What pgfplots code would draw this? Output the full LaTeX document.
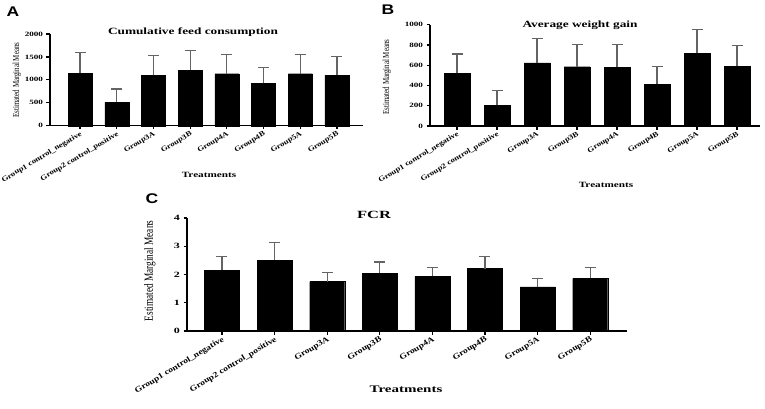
\documentclass[border=0pt]{standalone}
\usepackage{pgfplots}
\pgfplotsset{compat=1.18}
\usepackage{fontspec}
\setmainfont{Liberation Serif}
\newfontfamily\ws{Liberation Serif}[FakeStretch=1.4]
\newfontfamily\wt{Liberation Serif}[FakeStretch=1.2]
\newfontfamily\wsc{Liberation Serif}[FakeStretch=1.5]
\newfontfamily\nar{Liberation Serif}[FakeStretch=0.75]
\newfontfamily\lab{Liberation Sans}[FakeStretch=1.25]
\definecolor{errgray}{RGB}{100,100,100}
\pgfplotsset{
  myax/.style={
    scale only axis,
    axis lines*=left,
    axis line style={line width=1.5pt},
    ymin=0,
    xtick={0,...,7},
    xticklabels={Group1 control\_negative,Group2 control\_positive,Group3A,Group3B,Group4A,Group4B,Group5A,Group5B},
    tick align=outside,
    major tick length=3.5pt,
    tick style={black, line width=1.2pt},
    xticklabel style={rotate=31, anchor=north east, inner sep=1pt},
    /pgf/number format/1000 sep={},
    /pgf/number format/assume math mode=true,
    ybar,
    clip=false,
    enlarge y limits=false,
  },
  mybar/.style={
    fill=black, draw=black, line width=0.3pt,
    error bars/.cd, y dir=plus, y explicit,
    error bar style={errgray, line width=1.2pt},
    error mark options={errgray, rotate=90, mark size=5.5pt, line width=1.2pt},
  }
}
\begin{document}
\begin{tikzpicture}[x=1pt,y=1pt]
\useasboundingbox (0,0) rectangle (765,408);
% ---------------- A ----------------
\begin{axis}[myax,
  at={(50pt,282.3pt)}, anchor=south west,
  width=313pt, height=91.7pt,
  xmin=-0.82, xmax=7.71, ymax=2000,
  ytick={0,500,1000,1500,2000},
  bar width=24pt,
  yticklabel style={font=\ws\bfseries\fontsize{6.5}{7}\selectfont},
  xticklabel style={font=\wt\bfseries\fontsize{7.2}{8}\selectfont},
]
\addplot[mybar] coordinates {
 (0,1142) +- (0,458)
 (1,516) +- (0,284)
 (2,1098) +- (0,429)
 (3,1207) +- (0,429)
 (4,1135) +- (0,414)
 (5,924) +- (0,341)
 (6,1135) +- (0,421)
 (7,1105) +- (0,408)
};
\end{axis}
% ---------------- B ----------------
\begin{axis}[myax,
  at={(430pt,282pt)}, anchor=south west,
  width=330pt, height=101.3pt,
  xmin=-0.675, xmax=7.575, ymax=1000,
  ytick={0,200,400,600,800,1000},
  bar width=26pt,
  yticklabel style={font=\ws\bfseries\fontsize{6.5}{7}\selectfont},
  xticklabel style={font=\wt\bfseries\fontsize{7.2}{8}\selectfont},
]
\addplot[mybar] coordinates {
 (0,520) +- (0,190)
 (1,204) +- (0,148)
 (2,622) +- (0,240)
 (3,585) +- (0,221)
 (4,582) +- (0,224)
 (5,411) +- (0,175)
 (6,720) +- (0,231)
 (7,589) +- (0,207)
};
\end{axis}
% ---------------- C ----------------
\begin{axis}[myax,
  at={(187pt,77pt)}, anchor=south west,
  width=440pt, height=113pt,
  xmin=-0.665, xmax=7.70, ymax=4,
  ytick={0,1,2,3,4},
  bar width=35pt,
  yticklabel style={font=\wsc\bfseries\fontsize{8}{9}\selectfont},
  xticklabel style={font=\wt\bfseries\fontsize{8}{9}\selectfont},
]
\addplot[mybar] coordinates {
 (0,2.15) +- (0,0.50)
 (1,2.51) +- (0,0.63)
 (2,1.75) +- (0,0.32)
 (3,2.05) +- (0,0.39)
 (4,1.93) +- (0,0.33)
 (5,2.21) +- (0,0.44)
 (6,1.56) +- (0,0.31)
 (7,1.86) +- (0,0.40)
};
\end{axis}
% titles
\node[font=\ws\bfseries\fontsize{9.5}{10}\selectfont] at (193,376) {Cumulative feed consumption};
\node[font=\ws\bfseries\fontsize{9.5}{10}\selectfont] at (580,383) {Average weight gain};
\node[font=\wsc\bfseries\fontsize{11}{12}\selectfont] at (374,193) {FCR};
% x labels
\node[font=\ws\bfseries\fontsize{8}{9}\selectfont] at (209,233) {Treatments};
\node[font=\ws\bfseries\fontsize{8}{9}\selectfont] at (606,223) {Treatments};
\node[font=\wsc\bfseries\fontsize{10}{11}\selectfont] at (406,19) {Treatments};
% y labels
\node[rotate=90, font=\nar\fontsize{9.2}{10}\selectfont] at (17,328) {Estimated Marginal Means};
\node[rotate=90, font=\nar\fontsize{9.2}{10}\selectfont] at (387,331) {Estimated Marginal Means};
\node[rotate=90, font=\nar\fontsize{12.4}{13}\selectfont] at (150,137) {Estimated Marginal Means};
% panel labels
\node[font=\lab\bfseries\fontsize{14}{15}\selectfont] at (13,396) {A};
\node[font=\lab\bfseries\fontsize{14}{15}\selectfont] at (388,398) {B};
\node[font=\lab\bfseries\fontsize{14}{15}\selectfont] at (152,209) {C};
\end{tikzpicture}
\end{document}
